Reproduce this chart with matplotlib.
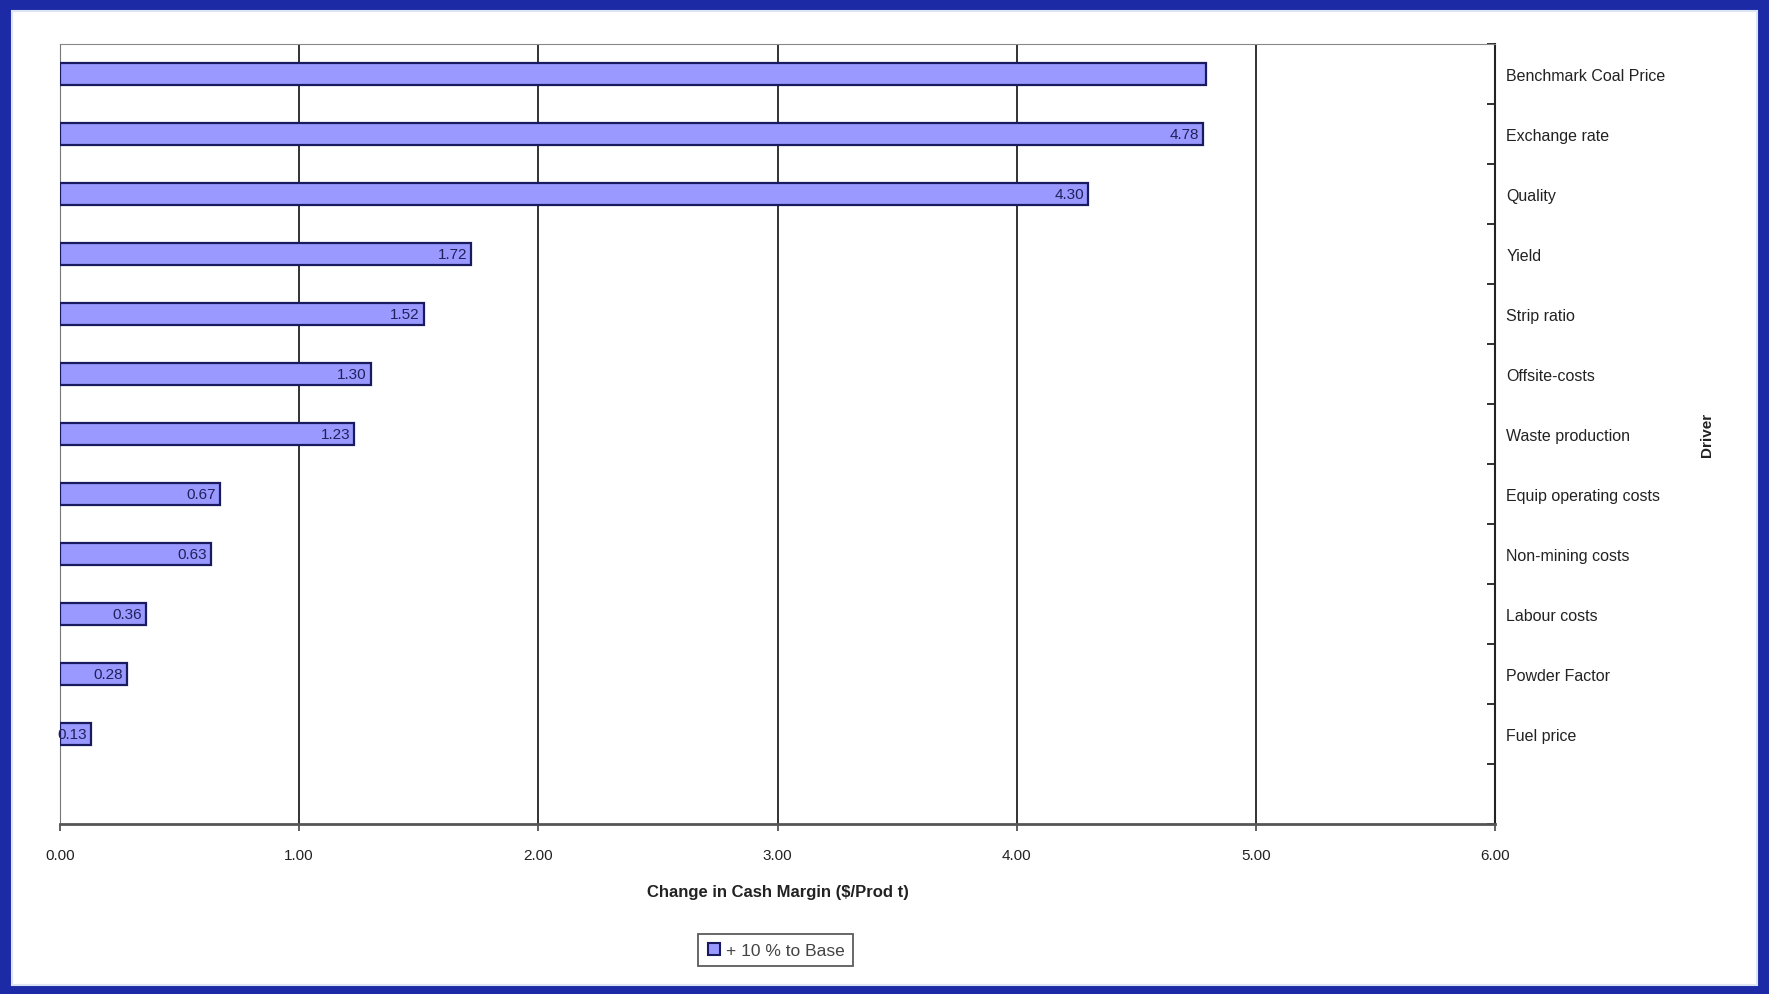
import matplotlib.pyplot as plt
from matplotlib.patches import Rectangle
from matplotlib.lines import Line2D

plt.rcParams['font.family'] = ['Liberation Sans', 'DejaVu Sans']

drivers = ['Benchmark Coal Price', 'Exchange rate', 'Quality', 'Yield', 'Strip ratio',
           'Offsite-costs', 'Waste production', 'Equip operating costs', 'Non-mining costs',
           'Labour costs', 'Powder Factor', 'Fuel price', '']
change = [4.79, 4.78, 4.30, 1.72, 1.52, 1.30, 1.23, 0.67, 0.63, 0.36, 0.28, 0.13, 0]
value_labels = ['', '4.78', '4.30', '1.72', '1.52', '1.30', '1.23', '0.67', '0.63',
                '0.36', '0.28', '0.13', '']
xticks = [0, 1, 2, 3, 4, 5, 6]
xticklabels = ['0.00', '1.00', '2.00', '3.00', '4.00', '5.00', '6.00']

fig = plt.figure(figsize=(17.69, 9.95), dpi=100, facecolor='#1c2aa6')
# white slide area inside the blue frame
fig.patches.append(Rectangle((12 / 1769, 9 / 995), 1745 / 1769, 974 / 995,
                             transform=fig.transFigure, facecolor='white',
                             edgecolor='#dde4f4', lw=1.5, zorder=-10))

ax = fig.add_axes([60 / 1769, 1 - 825 / 995, 1435 / 1769, 780 / 995])
ax.set_facecolor('white')

pos = list(range(len(drivers)))
ax.barh(pos[:-1], change[:-1], height=0.36, color='#9999ff', edgecolor='#1a1a5e',
        lw=1.6, zorder=3)

for y, v, t in zip(pos, change, value_labels):
    if t:
        ax.annotate(t, (v, y), xytext=(-3, 0), textcoords='offset points',
                    ha='right', va='center', fontsize=11, color='#20205a', zorder=4)

ax.set_xlim(0, 6)
ax.set_ylim(len(drivers) - 0.5, -0.5)

ax.set_xticks(xticks)
ax.set_xticklabels(xticklabels, fontsize=11, color='#222222')
ax.tick_params(axis='x', direction='out', length=5, width=1.2, color='#444444', pad=12)
ax.grid(axis='x', color='#222222', lw=1.3, zorder=1)

ax.yaxis.tick_right()
ax.yaxis.set_label_position('right')
ax.set_yticks(pos)
ax.set_yticklabels(drivers, fontsize=11.5, color='#222222', ha='left')
ax.set_yticks([p - 0.5 for p in pos] + [pos[-1] + 0.5], minor=True)
ax.tick_params(axis='y', which='major', length=0, pad=8)
ax.tick_params(axis='y', which='minor', direction='in', length=6, width=1.3,
               color='#222222', right=True, left=False)

ax.spines['top'].set_color('#888888')
ax.spines['left'].set_color('#777777')
ax.spines['bottom'].set_color('#555555')
ax.spines['bottom'].set_linewidth(2)
ax.spines['right'].set_color('#222222')
ax.spines['right'].set_linewidth(1.5)

ax.set_xlabel('Change in Cash Margin ($/Prod t)', fontsize=12, fontweight='bold',
              color='#222222', labelpad=16)
ax.set_ylabel('Driver', fontsize=11, fontweight='bold', rotation=90, color='#222222')
ax.yaxis.set_label_coords(1.143, 0.5)

handle = Line2D([], [], marker='s', ls='none', markersize=8, markerfacecolor='#9999ff',
                markeredgecolor='#1a1a5e', markeredgewidth=1.5)
leg = fig.legend([handle], ['+ 10 % to Base'], loc='center', bbox_to_anchor=(0.4385, 0.044),
                 fontsize=12.5, fancybox=False, edgecolor='#333333', handlelength=0.8,
                 handletextpad=0.3, borderpad=0.5)
leg.get_frame().set_linewidth(1.3)
for txt in leg.get_texts():
    txt.set_color('#444444')

fig.savefig('out.png', dpi=100, facecolor=fig.get_facecolor())
